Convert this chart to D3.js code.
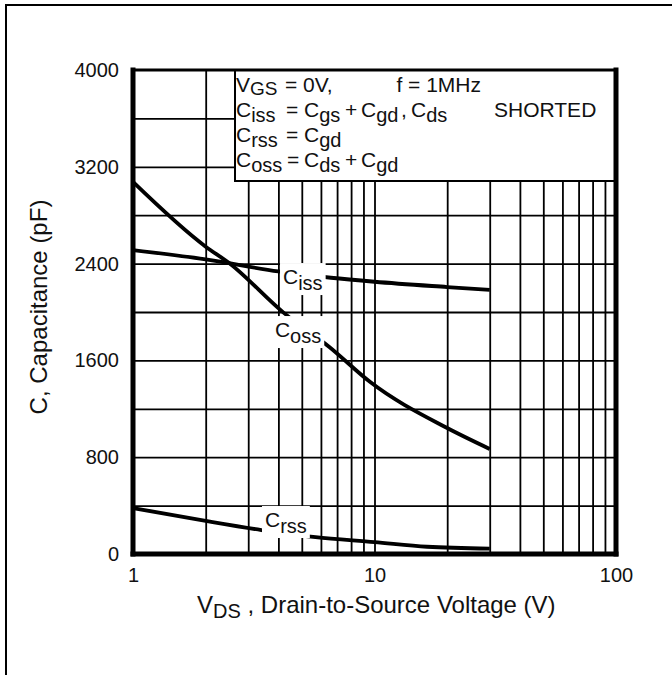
<!DOCTYPE html>
<html>
<head>
<meta charset="utf-8">
<script src="https://cdn.jsdelivr.net/npm/d3@7"></script>
<style>
  body { margin: 0; background: #fff; }
  svg { display: block; }
  text { font-family: "Liberation Sans", Arial, Helvetica, sans-serif; fill: #111; }
</style>
</head>
<body>
<svg id="chart" width="672" height="675"></svg>
<script>
// values (V in volts, C in pF)
const cissV = [1, 2, 4, 6.6, 10, 20, 30];
const cissC = [2512, 2435, 2335, 2283, 2250, 2206, 2182];
const cossV = [1, 2, 2.5, 4.2, 6.5, 9.6, 20, 30];
const cossC = [3075, 2540, 2405, 1995, 1711, 1421, 1041, 868];
const crssV = [1, 2, 3.4, 5.7, 10, 16.5, 30];
const crssC = [380, 273, 198, 140, 99, 60, 45];

const xLabels = [1, 10, 100];
const xGridVals = [2, 3, 4, 5, 6, 7, 8, 9, 10, 20, 30, 40, 50, 60, 70, 80, 90];
const yTicks = [0, 800, 1600, 2400, 3200, 4000];
const yGridVals = [400, 800, 1200, 1600, 2000, 2400, 2800, 3200, 3600];

// curve labels: [main, sub, V, C] anchored in data units
const curveLabels = [
  ["C", "iss", 4.18, 2231],
  ["C", "oss", 3.87, 1793],
  ["C", "rss", 3.52, 223]
];

const svg = d3.select("#chart");
const L = 133, R = 616, T = 70, B = 554;

const x = d3.scaleLog().domain([1, 100]).range([L, R]);
const y = d3.scaleLinear().domain([0, 4000]).range([B, T]);

// outer frame (only top and left edges fall inside the picture)
svg.append("rect")
  .attr("x", 6).attr("y", 5).attr("width", 720).attr("height", 720)
  .attr("fill", "none").attr("stroke", "#000").attr("stroke-width", 2);

// grid
svg.append("g")
  .attr("transform", `translate(0,${B})`)
  .call(d3.axisBottom(x).tickValues(xGridVals).tickSize(-(B - T)).tickFormat(""))
  .call(g => g.select(".domain").remove())
  .selectAll("line").attr("stroke", "#000").attr("stroke-width", 1.8);

svg.append("g")
  .attr("transform", `translate(${L},0)`)
  .call(d3.axisLeft(y).tickValues(yGridVals).tickSize(-(R - L)).tickFormat(""))
  .call(g => g.select(".domain").remove())
  .selectAll("line").attr("stroke", "#000").attr("stroke-width", 1.8);

// curves
const line = d3.line()
  .x(d => x(d[0]))
  .y(d => y(d[1]))
  .curve(d3.curveMonotoneX);

[[cissV, cissC], [cossV, cossC], [crssV, crssC]].forEach(([vs, cs]) => {
  svg.append("path")
    .datum(vs.map((v, i) => [v, cs[i]]))
    .attr("d", line)
    .attr("fill", "none")
    .attr("stroke", "#000")
    .attr("stroke-width", 3.8)
    .attr("stroke-linejoin", "round");
});

// text with subscripts: parts = [[text, isSub, x?], ...]
function richText(g, tx, ty, parts, size, subSize, shift) {
  const t = g.append("text").attr("x", tx).attr("y", ty).style("font-size", size + "px");
  let down = false;
  parts.forEach(([s, sub, px]) => {
    const sp = t.append("tspan").text(s);
    if (px != null) sp.attr("x", px);
    if (sub && !down) { sp.attr("dy", shift); down = true; }
    else if (!sub && down) { sp.attr("dy", -shift); down = false; }
    if (sub) sp.style("font-size", subSize + "px");
  });
  return t;
}

// legend box
const legend = svg.append("g");
legend.append("rect")
  .attr("x", 235).attr("y", T).attr("width", R - 235).attr("height", 181 - T)
  .attr("fill", "#fff").attr("stroke", "#000").attr("stroke-width", 2);

richText(legend, 236, 92, [["V", 0], ["GS", 1], ["= 0V,", 0, 285]], 21, 19, 3);
richText(legend, 481, 92, [["f = 1MHz", 0]], 21, 18, 3).attr("text-anchor", "end");
richText(legend, 236, 117, [["C", 0], ["iss", 1], ["=", 0, 286], ["C", 0, 304], ["gs", 1],
  ["+", 0, 345], ["C", 0, 361], ["gd", 1], [",", 0, 401]], 21, 20, 5);
richText(legend, 411, 117, [["C", 0], ["ds", 1]], 21, 20, 5);
richText(legend, 494, 117, [["SHORTED", 0]], 21, 20, 5);
richText(legend, 236, 142, [["C", 0], ["rss", 1], ["=", 0, 286], ["C", 0, 304], ["gd", 1]], 21, 20, 5);
richText(legend, 236, 167, [["C", 0], ["oss", 1], ["=", 0, 287], ["C", 0, 304], ["ds", 1],
  ["+", 0, 345], ["C", 0, 361], ["gd", 1]], 21, 20, 5);

// curve labels with white backing
curveLabels.forEach(([m, s, v, c]) => {
  const g = svg.append("g");
  const bg = g.append("rect").attr("fill", "#fff");
  const t = richText(g, x(v), y(c), [[m, 0], [s, 1]], 21, 20, 6);
  const bb = t.node().getBBox();
  bg.attr("x", bb.x - 3).attr("y", bb.y - 2).attr("width", bb.width + 6).attr("height", bb.height + 3);
});

// plot border
const border = svg.append("g").attr("stroke", "#000").attr("stroke-linecap", "square");
border.append("line").attr("x1", L).attr("x2", R).attr("y1", T).attr("y2", T).attr("stroke-width", 3);
border.append("line").attr("x1", L).attr("x2", R).attr("y1", B).attr("y2", B).attr("stroke-width", 5);
border.append("line").attr("x1", L).attr("x2", L).attr("y1", T).attr("y2", B).attr("stroke-width", 5);
border.append("line").attr("x1", R).attr("x2", R).attr("y1", T).attr("y2", B).attr("stroke-width", 5);

// tick labels
svg.append("g")
  .attr("transform", `translate(${L - 14},0)`)
  .call(d3.axisLeft(y).tickValues(yTicks).tickSize(0).tickPadding(0).tickFormat(d3.format("d")))
  .call(g => g.select(".domain").remove())
  .selectAll("text").style("font-size", "20px").style("font-family", null).attr("fill", "#222");

svg.append("g")
  .attr("transform", `translate(0,${B + 14})`)
  .call(d3.axisBottom(x).tickValues(xLabels).tickSize(0).tickPadding(0).tickFormat(d3.format("d")))
  .call(g => g.select(".domain").remove())
  .selectAll("text").style("font-size", "20px").style("font-family", null).attr("fill", "#222");

// axis titles
richText(svg, 197, 613, [["V", 0], ["DS", 1], [" , Drain-to-Source Voltage (V)", 0]], 24, 20, 5);

svg.append("text")
  .attr("transform", "translate(47,307) rotate(-90)")
  .attr("text-anchor", "middle")
  .style("font-size", "24px")
  .text("C, Capacitance (pF)");
</script>
</body>
</html>
